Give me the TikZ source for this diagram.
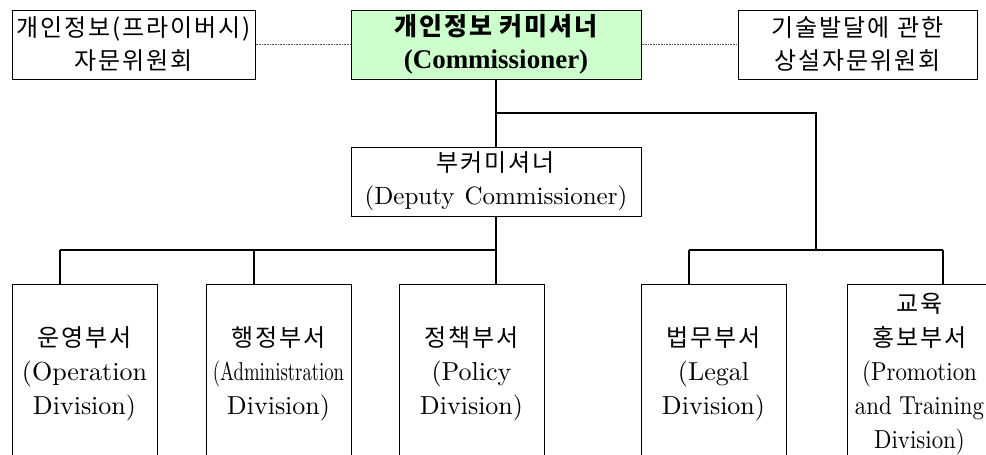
\documentclass[tikz,border=0pt]{standalone}
\usepackage{fontspec}
\newfontfamily\kr[LetterSpace=8]{Noto Sans CJK KR}
\newfontfamily\tnr{Liberation Serif}
\newfontfamily\en{lmroman10-regular.otf}
\definecolor{boardgreen}{RGB}{204,255,204}
\tikzset{
  box/.style={draw=black, line width=1pt, fill=white, inner sep=0pt, align=center},
  topbox/.style={box, minimum height=69pt},
  divbox/.style={box, minimum width=145pt, minimum height=180pt,
    font=\en\fontsize{26}{34}\selectfont},
  link/.style={line width=1.3pt},
  aux/.style={draw=gray!70!black, line width=0.8pt, dash pattern=on 0.8pt off 0.8pt},
}
\newcommand{\ko}[1]{{\kr\fontsize{24}{34}\selectfont #1}}
\newcommand{\narrow}[1]{\scalebox{0.88}[1]{#1}}
\begin{document}
\begin{tikzpicture}[x=1pt, y=-1pt]
  \useasboundingbox (0,0) rectangle (986,455);
  \clip (0,0) rectangle (986,455);

  % top row: commissioner and advisory committees
  \node[topbox, minimum width=243pt, font=\kr\fontsize{24}{33}\selectfont]
    (adv) at (133.5,44.5) {개인정보(프라이버시)\\자문위원회};
  \node[topbox, minimum width=290pt, fill=boardgreen,
        font=\fontsize{25}{33}\selectfont]
    (com) at (496,44.5)
    {{\kr\bfseries\fontsize{25}{33}\selectfont 개인정보 커미셔너}\\
     {\tnr\bfseries\fontsize{27}{33}\selectfont (Commissioner)}};
  \node[topbox, minimum width=239pt, font=\kr\fontsize{24}{33}\selectfont]
    (tech) at (857.5,44.5) {기술발달에 관한\\상설자문위원회};

  % deputy commissioner
  \node[box, minimum width=290pt, minimum height=69pt,
        font=\en\fontsize{25}{33}\selectfont]
    (dep) at (496,181.5) {\ko{부커미셔너}\\(Deputy\hspace{0.4em}Commissioner)};

  % divisions
  \node[divbox] (d1) at (84.5,374) {\ko{운영부서}\\(Operation\\Division)};
  \node[divbox] (d2) at (278.5,374)
    {\ko{행정부서}\\\scalebox{0.72}[1]{(Administration}\\Division)};
  \node[divbox] (d3) at (471.5,374) {\ko{정책부서}\\(Policy\\Division)};
  \node[divbox] (d4) at (713.5,374) {\ko{법무부서}\\(Legal\\Division)};
  \node[divbox] (d5) at (919.5,374)
    {\ko{교육}\\\ko{홍보부서}\\\narrow{(Promotion}\\\narrow{and Training}\\\narrow{Division)}};

  % advisory links
  \draw[aux] (adv.east) -- (com.west);
  \draw[aux] (com.east) -- (tech.west);

  % junction points of the reporting lines
  \coordinate (jr) at (496,113);
  \coordinate (jrd) at (816,250);
  \coordinate (jl) at (60,250);
  \coordinate (jm) at (254,250);
  \coordinate (jc) at (496,250);
  \coordinate (ja) at (689,250);
  \coordinate (jb) at (943,250);

  % reporting lines
  \draw[link] (com.south) -- (dep.north);
  \draw[link] (jr) -| (jrd);
  \draw[link] (dep.south) -- (dep.south |- d3.north);
  \draw[link] (jl) -- (jc);
  \draw[link] (jl) -- (jl |- d1.north);
  \draw[link] (jm) -- (jm |- d2.north);
  \draw[link] (ja) -- (jb);
  \draw[link] (ja) -- (ja |- d4.north);
  \draw[link] (jb) -- (jb |- d5.north);
\end{tikzpicture}
\end{document}
